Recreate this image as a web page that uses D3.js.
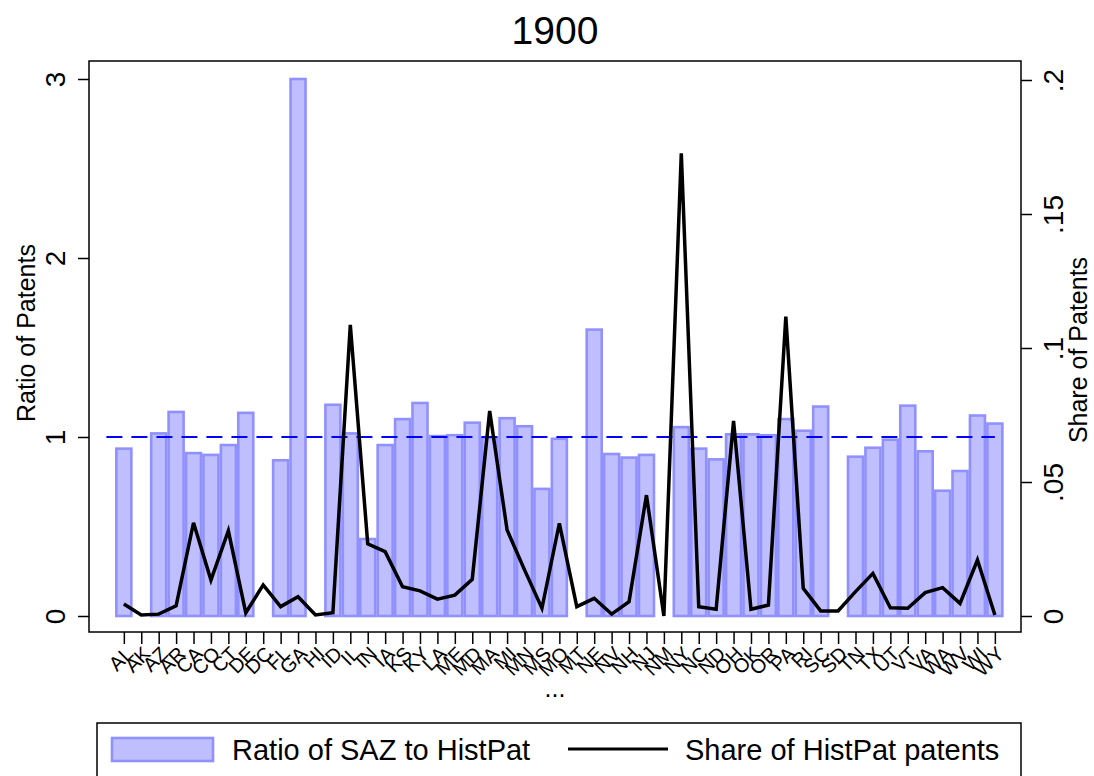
<!DOCTYPE html>
<html>
<head>
<meta charset="utf-8">
<script src="https://cdn.jsdelivr.net/npm/d3@7"></script>
<style>
  html, body { margin: 0; padding: 0; background: #fff; }
  svg { display: block; font-family: "Liberation Sans", Arial, Helvetica, sans-serif; }
</style>
</head>
<body>
<svg id="chart" width="1094" height="776"></svg>
<script>
// State abbreviations along the x axis
const states = ["AL","AK","AZ","AR","CA","CO","CT","DE","DC","FL","GA","HI","ID","IL","IN","IA","KS","KY","LA","ME","MD","MA","MI","MN","MS","MO","MT","NE","NV","NH","NJ","NM","NY","NC","ND","OH","OK","OR","PA","RI","SC","SD","TN","TX","UT","VT","VA","WA","WV","WI","WY"];

// Ratio of SAZ to HistPat (null = no bar)
const ratio = [0.935,null,1.02,1.14,0.91,0.90,0.955,1.135,null,0.87,3.0,null,1.18,1.02,0.43,0.955,1.10,1.19,1.005,1.01,1.08,0.995,1.105,1.06,0.71,0.99,null,1.60,0.905,0.885,0.90,null,1.055,0.935,0.875,1.015,1.015,1.01,1.10,1.035,1.17,null,0.89,0.94,0.985,1.175,0.92,0.70,0.81,1.12,1.075];

// Share of HistPat patents
const share = [0.0045,0.0004,0.0007,0.0038,0.0348,0.0134,0.0318,0.0012,0.0116,0.0035,0.0072,0.0004,0.0012,0.1086,0.0269,0.024,0.0109,0.0094,0.0063,0.0078,0.0137,0.0765,0.0321,0.0172,0.0029,0.0346,0.0035,0.0066,0.0007,0.0053,0.0451,0.0,0.1726,0.0035,0.0025,0.0728,0.0025,0.0041,0.1117,0.0103,0.0019,0.0019,0.0091,0.0159,0.0031,0.0029,0.0087,0.0106,0.0047,0.0209,0.0004];

// Axis ticks
const leftTicks = [0, 1, 2, 3];
const rightTicks = [0, 0.05, 0.1, 0.15, 0.2];
const rightTickLabels = ["0", ".05", ".1", ".15", ".2"];

const title = "1900";
const refLevel = 1;

const svg = d3.select("#chart");
const plot = { left: 89, right: 1021, top: 61, bottom: 632 };

const x = d3.scaleLinear().domain([-2, 51.5]).range([plot.left, plot.right]);
const yL = d3.scaleLinear().domain([0, 3]).range([616, 79]);
const yR = d3.scaleLinear().domain([0, 0.2]).range([616, 80]);

const barFill = "#bfbfff", barStroke = "#9090ff";
const bw = 15;

// Bars
svg.append("g").selectAll("rect")
  .data(ratio.map((v, i) => ({ v, i })).filter(d => d.v !== null))
  .join("rect")
  .attr("x", d => x(d.i) - bw / 2)
  .attr("width", bw)
  .attr("y", d => yL(d.v))
  .attr("height", d => yL(0) - yL(d.v))
  .attr("fill", barFill)
  .attr("stroke", barStroke)
  .attr("stroke-width", 2.6);

// Reference line at ratio = 1
svg.append("line")
  .attr("x1", x(-1)).attr("x2", x(50))
  .attr("y1", yL(refLevel)).attr("y2", yL(refLevel))
  .attr("stroke", "#0000ff")
  .attr("stroke-width", 2)
  .attr("stroke-dasharray", "16,9");

// Share line
const line = d3.line().x((d, i) => x(i)).y(d => yR(d));
svg.append("path")
  .datum(share)
  .attr("d", line)
  .attr("fill", "none")
  .attr("stroke", "#000")
  .attr("stroke-width", 3.5)
  .attr("stroke-linejoin", "miter");

// Plot frame
svg.append("rect")
  .attr("x", plot.left).attr("y", plot.top)
  .attr("width", plot.right - plot.left).attr("height", plot.bottom - plot.top)
  .attr("fill", "none").attr("stroke", "#000").attr("stroke-width", 1.5);

// Left axis
const gL = svg.append("g").attr("transform", `translate(${plot.left},0)`)
  .call(d3.axisLeft(yL).tickValues(leftTicks).tickSize(11).tickFormat(d3.format("d")));
gL.select(".domain").remove();
gL.selectAll(".tick line").attr("stroke", "#000").attr("stroke-width", 1.5);
gL.selectAll(".tick text")
  .attr("x", 0).attr("y", -24).attr("dy", null)
  .attr("transform", "rotate(-90)")
  .attr("text-anchor", "middle")
  .attr("font-size", 28).attr("fill", "#000");

// Right axis
const gR = svg.append("g").attr("transform", `translate(${plot.right},0)`)
  .call(d3.axisRight(yR).tickValues(rightTicks).tickSize(11)
    .tickFormat((d, i) => rightTickLabels[i]));
gR.select(".domain").remove();
gR.selectAll(".tick line").attr("stroke", "#000").attr("stroke-width", 1.5);
gR.selectAll(".tick text")
  .attr("x", 0).attr("y", 42).attr("dy", null)
  .attr("transform", "rotate(-90)")
  .attr("text-anchor", "middle")
  .attr("font-size", 28).attr("fill", "#000");

// Bottom axis
const gB = svg.append("g").attr("transform", `translate(0,${plot.bottom})`)
  .call(d3.axisBottom(x).tickValues(d3.range(states.length)).tickSize(12)
    .tickFormat(i => states[i]));
gB.select(".domain").remove();
gB.selectAll(".tick line").attr("stroke", "#000").attr("stroke-width", 1.5);
gB.selectAll(".tick text")
  .attr("x", 0).attr("y", 0).attr("dy", null)
  .attr("transform", "translate(10,23) rotate(-45)")
  .attr("text-anchor", "end")
  .attr("font-size", 20).attr("fill", "#000");

// Axis titles
svg.append("text")
  .attr("transform", "translate(35,333) rotate(-90)")
  .attr("text-anchor", "middle").attr("font-size", 25)
  .text("Ratio of Patents");
svg.append("text")
  .attr("transform", "translate(1087,350) rotate(-90)")
  .attr("text-anchor", "middle").attr("font-size", 25)
  .text("Share of Patents");
svg.append("text")
  .attr("x", (plot.left + plot.right) / 2).attr("y", 697)
  .attr("text-anchor", "middle").attr("font-size", 25)
  .text("...");

// Title
svg.append("text")
  .attr("x", (plot.left + plot.right) / 2).attr("y", 44)
  .attr("text-anchor", "middle").attr("font-size", 39)
  .text(title);

// Legend
const lg = svg.append("g");
lg.append("rect")
  .attr("x", 97).attr("y", 723).attr("width", 924).attr("height", 70)
  .attr("fill", "#fff").attr("stroke", "#000").attr("stroke-width", 1.5);
lg.append("rect")
  .attr("x", 112).attr("y", 738).attr("width", 101).attr("height", 23)
  .attr("fill", barFill).attr("stroke", barStroke).attr("stroke-width", 2.6);
lg.append("text")
  .attr("x", 232).attr("y", 760).attr("font-size", 29)
  .text("Ratio of SAZ to HistPat");
lg.append("line")
  .attr("x1", 568).attr("x2", 668).attr("y1", 749).attr("y2", 749)
  .attr("stroke", "#000").attr("stroke-width", 3);
lg.append("text")
  .attr("x", 685).attr("y", 760).attr("font-size", 29)
  .text("Share of HistPat patents");
</script>
</body>
</html>
